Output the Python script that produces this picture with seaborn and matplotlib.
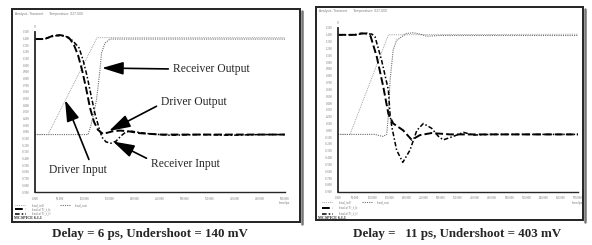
import pandas as pd
import seaborn as sns
import matplotlib.pyplot as plt
from matplotlib.patches import Rectangle
from matplotlib.ticker import MultipleLocator, FormatStrFormatter

# --- left panel (delay 6 ps) : time in ps, voltage in V ---
l_drv_in_t = [0, 26, 124, 500]
l_drv_in_v = [-0.04, -0.04, 1.41, 1.41]
l_rcv_out_t = [0, 106, 112, 118, 123, 126, 130, 133, 140, 150, 500]
l_rcv_out_v = [-0.04, -0.04, 0.10, 0.30, 0.48, 0.67, 0.93, 1.18, 1.33, 1.39, 1.39]
l_drv_out_t = [0, 16, 26, 36, 50, 62, 70, 78, 86, 94, 102, 110, 118, 126, 136, 146, 156, 170, 186, 210, 250, 500]
l_drv_out_v = [1.39, 1.39, 1.41, 1.44, 1.45, 1.43, 1.39, 1.30, 1.15, 0.93, 0.66, 0.36, 0.15, 0.03,
               -0.03, -0.01, 0.01, 0.02, 0.01, -0.02, -0.04, -0.04]
l_rcv_in_t = [0, 20, 30, 42, 56, 66, 76, 88, 96, 104, 112, 120, 128, 134, 142, 152, 162, 172, 182,
              194, 210, 230, 270, 330, 390, 450, 500]
l_rcv_in_v = [1.39, 1.39, 1.42, 1.44, 1.44, 1.42, 1.36, 1.26, 1.08, 0.84, 0.55, 0.27, 0.06, -0.08,
              -0.15, -0.17, -0.14, -0.06, 0.00, 0.01, -0.01, -0.03, -0.05, -0.04, -0.05, -0.04, -0.04]

# --- right panel (delay 11 ps) ---
r_drv_in_t = [0, 35, 147, 700]
r_drv_in_v = [-0.06, -0.06, 1.40, 1.41]
r_rcv_out_t = [0, 108, 131, 142, 147, 152, 161, 171, 200, 220, 239, 259, 298, 700]
r_rcv_out_v = [-0.06, -0.06, -0.09, -0.06, 0.22, 0.74, 1.18, 1.32, 1.42, 1.43, 1.41, 1.38, 1.39, 1.39]
r_drv_out_t = [0, 50, 60, 85, 95, 113, 132, 147, 161, 190, 215, 239, 273, 327, 700]
r_drv_out_v = [1.40, 1.40, 1.42, 1.42, 1.38, 1.08, 0.64, 0.24, 0.10, 0.00, -0.14, -0.07, -0.04, -0.06, -0.06]
r_rcv_in_t = [0, 55, 70, 99, 108, 127, 147, 152, 157, 171, 189, 210, 230, 249, 273, 293, 307, 336,
              366, 395, 443, 700]
r_rcv_in_v = [1.40, 1.40, 1.42, 1.41, 1.37, 1.03, 0.59, 0.22, 0.05, -0.29, -0.47, -0.29, 0.00, 0.10,
              0.03, -0.09, -0.14, -0.09, -0.03, -0.07, -0.06, -0.06]

captions = ["Delay = 6 ps, Undershoot = 140 mV", "Delay =   11 ps, Undershoot = 403 mV"]
legend_names = ["lead_in0", "lead.x(7)_t_b", "lead.x(7)_t_tl", "lead_out"]
header = "Analysis: Transient      Temperature: 027.000"

W, H = 592, 245

STY_DRV_IN = dict(color="#8a8a8a", lw=0.6, linestyle=(0, (1, 1.2)))
STY_RCV_OUT = dict(color="#6e6e6e", lw=0.8, linestyle=(0, (1, 1.0)))
STY_DRV_OUT = dict(color="black", lw=1.4, linestyle=(0, (4, 1.6)))
STY_RCV_IN = dict(color="black", lw=1.1, linestyle=(0, (3, 1.4, 1, 1.4)))


def fx(x):
    return x / W


def fy(y):
    return 1 - y / H


sns.set_style("white")
plt.rcParams["font.family"] = ["Liberation Serif", "DejaVu Serif"]

fig = plt.figure(figsize=(W / 100, H / 100), dpi=100)


def box(x0, y0, x1, y1):
    fig.patches.append(Rectangle((fx(x0), fy(y1)), fx(x1 - x0), (y1 - y0) / H,
                                 transform=fig.transFigure, fill=False,
                                 edgecolor="#222222", lw=1.4))
    # grey shadow on the right side
    fig.add_artist(plt.Line2D([fx(x1 + 1.5), fx(x1 + 1.5)], [fy(y0 + 2), fy(y1 + 1.5)],
                              transform=fig.transFigure, color="#777777", lw=1.8))


def panel(rect, tmax, series, tick_step):
    x0, y0, x1, y1 = rect
    ax = fig.add_axes([fx(x0), fy(y1), fx(x1 - x0), (y1 - y0) / H])
    for t, v, sty in series:
        sns.lineplot(x=t, y=v, ax=ax, estimator=None, **sty)
    ax.set_xlim(0, tmax)
    ax.set_ylim(-0.9, 1.5)
    ax.set_xlabel("")
    ax.set_ylabel("")
    ax.xaxis.set_major_locator(MultipleLocator(tick_step))
    ax.xaxis.set_minor_locator(MultipleLocator(tick_step / 5))
    ax.yaxis.set_major_locator(MultipleLocator(0.1))
    ax.xaxis.set_major_formatter(FormatStrFormatter("%.3f"))
    ax.yaxis.set_major_formatter(FormatStrFormatter("%.3f"))
    for s in ["top", "right"]:
        ax.spines[s].set_visible(False)
    ax.spines["left"].set_linewidth(1.3)
    ax.spines["bottom"].set_linewidth(1.0)
    ax.tick_params(axis="y", direction="out", length=2.6, width=1.1, labelsize=2.2,
                   labelcolor="#777777", pad=1.2)
    ax.tick_params(axis="x", which="major", direction="out", length=2.4, width=0.9,
                   labelsize=2.2, labelcolor="#777777", pad=1.0)
    ax.tick_params(axis="x", which="minor", direction="out", length=1.2, width=0.7)
    ax.patch.set_alpha(0)
    fig.text(fx(x0), fy(y0 - 4.5), "V", fontsize=2.2, color="#777777", ha="center", va="center",
             family="DejaVu Sans")
    fig.text(fx(x1), fy(y1 + 11), "time/ps", fontsize=2.2, color="#777777", ha="center",
             va="center", family="DejaVu Sans")
    return ax


def legend_block(x, rows, col2):
    samples = [STY_DRV_IN, STY_DRV_OUT, STY_RCV_IN]
    for i, (yy, sty) in enumerate(zip(rows, samples)):
        fig.add_artist(plt.Line2D([fx(x), fx(x + 11)], [fy(yy), fy(yy)],
                                  transform=fig.transFigure, **sty))
        fig.text(fx(x + 17), fy(yy), legend_names[i], fontsize=2.2, color="#777777",
                 va="center", family="DejaVu Sans")
    fig.add_artist(plt.Line2D([fx(col2), fx(col2 + 11)], [fy(rows[0]), fy(rows[0])],
                              transform=fig.transFigure, **STY_RCV_OUT))
    fig.text(fx(col2 + 15), fy(rows[0]), legend_names[3], fontsize=2.2, color="#777777",
             va="center", family="DejaVu Sans")


# ---------- left ----------
box(12, 9, 300, 222)
fig.text(fx(15), fy(13.5), header, fontsize=2.2, color="#777777", va="center",
         family="DejaVu Sans")
axl = panel((35, 31.7, 285, 192), 500,
            [(l_drv_in_t, l_drv_in_v, STY_DRV_IN), (l_rcv_out_t, l_rcv_out_v, STY_RCV_OUT),
             (l_drv_out_t, l_drv_out_v, STY_DRV_OUT), (l_rcv_in_t, l_rcv_in_v, STY_RCV_IN)], 50)
legend_block(15, [205, 209.3, 213.5], 60)
fig.text(fx(14), fy(218), "MCSPICE 6.1.1", fontsize=3.0, weight="bold", va="center")

# ---------- right ----------
box(316, 7, 583, 220)
fig.text(fx(319), fy(11), header, fontsize=2.2, color="#777777", va="center",
         family="DejaVu Sans")
axr = panel((338, 28, 578, 191.7), 700,
            [(r_drv_in_t, r_drv_in_v, STY_DRV_IN), (r_rcv_out_t, r_rcv_out_v, STY_RCV_OUT),
             (r_drv_out_t, r_drv_out_v, STY_DRV_OUT), (r_rcv_in_t, r_rcv_in_v, STY_RCV_IN)], 50)
legend_block(322, [202, 207.8, 213.6], 362)
fig.text(fx(318), fy(218.3), "MCSPICE 6.1.1", fontsize=3.0, weight="bold", va="center")


# ---------- annotations on the left panel ----------
def arrow_label(text, tip, pos, ha, relpos):
    axl.annotate(text, xy=(fx(tip[0]), fy(tip[1])), xycoords="figure fraction",
                 xytext=(fx(pos[0]), fy(pos[1])), textcoords="figure fraction",
                 ha=ha, va="center", fontsize=8.4,
                 arrowprops=dict(arrowstyle="-|>,head_length=1.0,head_width=0.3",
                                 mutation_scale=13, lw=1.2, color="black",
                                 relpos=relpos, shrinkA=1, shrinkB=0))


arrow_label("Receiver Output", (102, 68), (173, 69), "left", (0, 0.5))
arrow_label("Driver Output", (109, 131), (161, 101.5), "left", (0, 0.3))
arrow_label("Receiver Input", (113, 141.5), (151, 163.5), "left", (0, 0.75))
arrow_label("Driver Input", (65, 100), (78, 170), "center", (0.72, 1.0))

# ---------- captions ----------
fig.text(fx(150), fy(234), captions[0], fontsize=9.4, weight="bold", ha="center", va="center")
fig.text(fx(457), fy(233.5), captions[1], fontsize=9.4, weight="bold", ha="center", va="center")

fig.savefig("out.png", dpi=100)
